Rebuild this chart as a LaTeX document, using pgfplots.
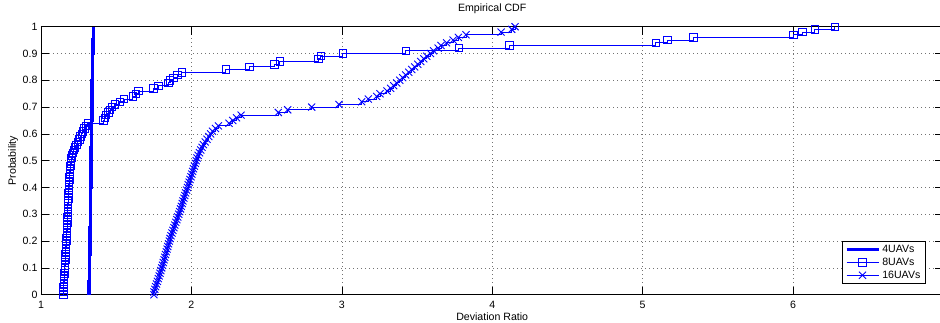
\documentclass[border=0pt]{standalone}
\usepackage{fontspec}
\setmainfont{Liberation Sans}
\usepackage{pgfplots}
\pgfplotsset{compat=1.18}
\definecolor{mblue}{RGB}{0,0,255}
\begin{document}
\begin{tikzpicture}[font=\fontsize{10.6}{12.7}\selectfont]
\begin{axis}[
  at={(0,0)}, anchor=south west,
  scale only axis, width=902.4pt, height=268pt,
  xmin=1, xmax=7, ymin=0, ymax=1,
  xtick={1,2,3,4,5,6},
  ytick={0,0.1,0.2,0.3,0.4,0.5,0.6,0.7,0.8,0.9,1},
  /pgf/number format/assume math mode=true,
  /pgf/number format/fixed, /pgf/number format/precision=1,
  xticklabel style={yshift=-3pt},
  tick align=inside, tick pos=both,
  major tick length=8pt,
  tick style={black, line width=0.6pt},
  axis line style={black, line width=0.8pt},
  grid=major,
  major grid style={black!55, line width=0.5pt, dash pattern=on 0.8pt off 3.2pt},
  title={Empirical CDF},
  title style={at={(axis description cs:0.5,1.0463)}, anchor=center},
  xlabel={Deviation Ratio},
  xlabel style={at={(axis description cs:0.5,-0.0821)}, anchor=center},
  ylabel={Probability},
  ylabel style={at={(axis description cs:-0.031,0.5)}, anchor=center},
  legend style={at={(axis description cs:1,0)}, anchor=south east,
    xshift=-17.7pt, yshift=10.7pt, draw=black, line width=0.6pt,
    cells={anchor=west}, font=\fontsize{10.6}{12.7}\selectfont},
  legend image code/.code={\draw[mark repeat=2,mark phase=2] plot coordinates {(0pt,0pt) (16pt,0pt) (32pt,0pt)};},
]
\addplot[mblue, line width=3.5pt, const plot, mark=none] coordinates {
(1.319,0) (1.319,0.05) (1.321,0.10) (1.323,0.15) (1.325,0.20) (1.327,0.25)
(1.328,0.30) (1.329,0.35) (1.330,0.40) (1.332,0.45) (1.333,0.50) (1.334,0.55)
(1.335,0.60) (1.336,0.65) (1.338,0.70) (1.339,0.75) (1.340,0.80) (1.341,0.85)
(1.343,0.90) (1.346,0.95) (1.350,1.00)
};
\addlegendentry{4UAVs}
\addplot[mblue, line width=1pt, const plot, mark=square, mark size=3.7pt, mark options={solid, line width=0.8pt, fill=none}] coordinates {
(1.148,0)
(1.148,0.01) (1.149,0.02) (1.150,0.03) (1.151,0.04) (1.152,0.05) (1.153,0.06) (1.154,0.07) (1.155,0.08) (1.157,0.09) (1.158,0.10)
(1.159,0.11) (1.160,0.12) (1.161,0.13) (1.162,0.14) (1.163,0.15) (1.164,0.16) (1.165,0.17) (1.166,0.18) (1.167,0.19) (1.169,0.20)
(1.170,0.21) (1.171,0.22) (1.172,0.23) (1.172,0.24) (1.173,0.25) (1.174,0.26) (1.175,0.27) (1.175,0.28) (1.176,0.29) (1.177,0.30)
(1.177,0.31) (1.178,0.32) (1.179,0.33) (1.179,0.34) (1.180,0.35) (1.181,0.36) (1.182,0.37) (1.183,0.38) (1.184,0.39) (1.185,0.40)
(1.186,0.41) (1.187,0.42) (1.188,0.43) (1.189,0.44) (1.191,0.45) (1.192,0.46) (1.194,0.47) (1.196,0.48) (1.198,0.49) (1.200,0.50)
(1.203,0.51) (1.207,0.52) (1.212,0.53) (1.218,0.54) (1.225,0.55) (1.235,0.56) (1.245,0.57) (1.255,0.58) (1.262,0.59) (1.270,0.60)
(1.278,0.61) (1.288,0.62) (1.298,0.63) (1.310,0.64)
(1.414,0.65) (1.425,0.66) (1.432,0.67) (1.448,0.68) (1.460,0.69) (1.470,0.70) (1.492,0.71) (1.525,0.72) (1.552,0.73) (1.610,0.74)
(1.630,0.75) (1.647,0.76) (1.747,0.77) (1.780,0.78) (1.846,0.79) (1.858,0.80) (1.880,0.81) (1.906,0.82) (1.935,0.83)
(2.228,0.84) (2.385,0.85) (2.551,0.86) (2.589,0.87) (2.844,0.88) (2.860,0.89) (3.006,0.90) (3.425,0.91) (3.777,0.92) (4.114,0.93)
(5.087,0.94) (5.164,0.95) (5.337,0.96) (6.002,0.97) (6.062,0.98) (6.146,0.99) (6.279,1.00)
};
\addlegendentry{8UAVs}
\addplot[mblue, line width=1pt, const plot, mark=x, mark size=5pt, mark options={solid, line width=0.9pt}] coordinates {
(1.751,0)
(1.751,0.01) (1.757,0.02) (1.762,0.03) (1.768,0.04) (1.774,0.05) (1.780,0.06) (1.786,0.07) (1.791,0.08) (1.797,0.09) (1.803,0.10)
(1.808,0.11) (1.813,0.12) (1.818,0.13) (1.823,0.14) (1.828,0.15) (1.833,0.16) (1.838,0.17) (1.843,0.18) (1.848,0.19) (1.853,0.20)
(1.858,0.21) (1.864,0.22) (1.871,0.23) (1.877,0.24) (1.884,0.25) (1.890,0.26) (1.896,0.27) (1.903,0.28) (1.909,0.29) (1.916,0.30)
(1.922,0.31) (1.928,0.32) (1.933,0.33) (1.939,0.34) (1.944,0.35) (1.950,0.36) (1.956,0.37) (1.962,0.38) (1.968,0.39) (1.974,0.40)
(1.979,0.41) (1.985,0.42) (1.991,0.43) (1.997,0.44) (2.003,0.45) (2.008,0.46) (2.014,0.47) (2.020,0.48) (2.026,0.49) (2.032,0.50)
(2.037,0.51) (2.045,0.52) (2.054,0.53) (2.062,0.54) (2.071,0.55) (2.080,0.56) (2.092,0.57) (2.104,0.58) (2.116,0.59) (2.128,0.60)
(2.140,0.61) (2.160,0.62) (2.180,0.63) (2.250,0.64) (2.275,0.65) (2.300,0.66) (2.330,0.67)
(2.578,0.68) (2.640,0.69) (2.800,0.70) (2.981,0.71) (3.132,0.72) (3.176,0.73) (3.232,0.74) (3.254,0.75)
(3.300,0.76) (3.325,0.77) (3.345,0.78) (3.365,0.79) (3.385,0.80) (3.405,0.81) (3.425,0.82) (3.445,0.83) (3.465,0.84) (3.485,0.85)
(3.505,0.86) (3.525,0.87) (3.545,0.88) (3.565,0.89) (3.590,0.90)
(3.610,0.91) (3.640,0.92) (3.660,0.93) (3.697,0.94) (3.740,0.95) (3.775,0.96) (3.826,0.97) (4.059,0.98) (4.130,0.99) (4.152,1.00)
};
\addlegendentry{16UAVs}
\end{axis}
\pgfresetboundingbox
\useasboundingbox (-41pt,-27.3pt) rectangle (899pt,294.7pt);
\end{tikzpicture}
\end{document}
